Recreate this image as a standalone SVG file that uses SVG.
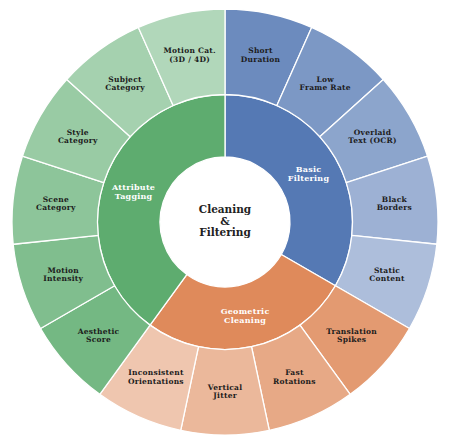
<svg xmlns="http://www.w3.org/2000/svg" width="456" height="441" viewBox="0 0 456 441">
<style>
.w{stroke:#ffffff;stroke-width:1.3;stroke-linejoin:round}
.o{font-family:"DejaVu Serif","Liberation Serif",serif;font-weight:bold;font-size:7.5px;letter-spacing:0.25px;fill:#1c1c1c;text-anchor:middle}
.m{font-family:"DejaVu Serif","Liberation Serif",serif;font-weight:bold;font-size:8px;letter-spacing:0.25px;fill:#ffffff;text-anchor:middle}
.c{font-family:"DejaVu Serif","Liberation Serif",serif;font-weight:bold;font-size:10.5px;fill:#222222;text-anchor:middle}
</style>
<rect width="456" height="441" fill="#ffffff"/>
<g id="basic-filtering">
<path class="w" fill="#5579b4" d="M225,94.5 A127.5,127.5 0 0 1 335.42,285.75 L281.29,254.5 A65,65 0 0 0 225,157 Z"/>
<text class="m" x="308.5" y="171.5">Basic</text>
<text class="m" x="308.5" y="180.5">Filtering</text>
</g>
<g id="geometric-cleaning">
<path class="w" fill="#df8a5b" d="M335.42,285.75 A127.5,127.5 0 0 1 150.06,325.15 L186.79,274.59 A65,65 0 0 0 281.29,254.5 Z"/>
<text class="m" x="245.1" y="313.8">Geometric</text>
<text class="m" x="245.1" y="322.8">Cleaning</text>
</g>
<g id="attribute-tagging">
<path class="w" fill="#5eac6f" d="M150.06,325.15 A127.5,127.5 0 0 1 225,94.5 L225,157 A65,65 0 0 0 186.79,274.59 Z"/>
<text class="m" x="133.6" y="189.9">Attribute</text>
<text class="m" x="133.6" y="198.9">Tagging</text>
</g>
<g id="short-duration">
<path class="w" fill="#6c8bbe" d="M225,9 A213,213 0 0 1 311.64,27.42 L276.86,105.52 A127.5,127.5 0 0 0 225,94.5 Z"/>
<text class="o" x="260.5" y="53.4">Short</text>
<text class="o" x="260.5" y="61.6">Duration</text>
</g>
<g id="low-frame-rate">
<path class="w" fill="#7c98c5" d="M311.64,27.42 A213,213 0 0 1 383.29,79.48 L319.75,136.69 A127.5,127.5 0 0 0 276.86,105.52 Z"/>
<text class="o" x="325.2" y="82.2">Low</text>
<text class="o" x="325.2" y="90.4">Frame Rate</text>
</g>
<g id="overlaid-text">
<path class="w" fill="#8ca5cc" d="M383.29,79.48 A213,213 0 0 1 427.57,156.18 L346.26,182.6 A127.5,127.5 0 0 0 319.75,136.69 Z"/>
<text class="o" x="372.5" y="134.8">Overlaid</text>
<text class="o" x="372.5" y="143">Text (OCR)</text>
</g>
<g id="black-borders">
<path class="w" fill="#9db1d4" d="M427.57,156.18 A213,213 0 0 1 436.83,244.26 L351.8,235.33 A127.5,127.5 0 0 0 346.26,182.6 Z"/>
<text class="o" x="394.4" y="202.1">Black</text>
<text class="o" x="394.4" y="210.3">Borders</text>
</g>
<g id="static-content">
<path class="w" fill="#adbedb" d="M436.83,244.26 A213,213 0 0 1 409.46,328.5 L335.42,285.75 A127.5,127.5 0 0 0 351.8,235.33 Z"/>
<text class="o" x="387" y="272.5">Static</text>
<text class="o" x="387" y="280.7">Content</text>
</g>
<g id="translation-spikes">
<path class="w" fill="#e39a71" d="M409.46,328.5 A213,213 0 0 1 350.2,394.32 L299.94,325.15 A127.5,127.5 0 0 0 335.42,285.75 Z"/>
<text class="o" x="351.6" y="333.8">Translation</text>
<text class="o" x="351.6" y="342">Spikes</text>
</g>
<g id="fast-rotations">
<path class="w" fill="#e7a986" d="M350.2,394.32 A213,213 0 0 1 269.29,430.35 L251.51,346.71 A127.5,127.5 0 0 0 299.94,325.15 Z"/>
<text class="o" x="294.4" y="375.4">Fast</text>
<text class="o" x="294.4" y="383.6">Rotations</text>
</g>
<g id="vertical-jitter">
<path class="w" fill="#ebb89b" d="M269.29,430.35 A213,213 0 0 1 180.71,430.35 L198.49,346.71 A127.5,127.5 0 0 0 251.51,346.71 Z"/>
<text class="o" x="225.1" y="390.2">Vertical</text>
<text class="o" x="225.1" y="398.4">Jitter</text>
</g>
<g id="inconsistent-orientations">
<path class="w" fill="#efc6af" d="M180.71,430.35 A213,213 0 0 1 99.8,394.32 L150.06,325.15 A127.5,127.5 0 0 0 198.49,346.71 Z"/>
<text class="o" x="155.9" y="375.4">Inconsistent</text>
<text class="o" x="155.9" y="383.6">Orientations</text>
</g>
<g id="aesthetic-score">
<path class="w" fill="#74b883" d="M99.8,394.32 A213,213 0 0 1 40.54,328.5 L114.58,285.75 A127.5,127.5 0 0 0 150.06,325.15 Z"/>
<text class="o" x="98.6" y="333.8">Aesthetic</text>
<text class="o" x="98.6" y="342">Score</text>
</g>
<g id="motion-intensity">
<path class="w" fill="#80be8e" d="M40.54,328.5 A213,213 0 0 1 13.17,244.26 L98.2,235.33 A127.5,127.5 0 0 0 114.58,285.75 Z"/>
<text class="o" x="63.2" y="272.5">Motion</text>
<text class="o" x="63.2" y="280.7">Intensity</text>
</g>
<g id="scene-category">
<path class="w" fill="#8dc59a" d="M13.17,244.26 A213,213 0 0 1 22.43,156.18 L103.74,182.6 A127.5,127.5 0 0 0 98.2,235.33 Z"/>
<text class="o" x="55.8" y="202.1">Scene</text>
<text class="o" x="55.8" y="210.3">Category</text>
</g>
<g id="style-category">
<path class="w" fill="#99cba4" d="M22.43,156.18 A213,213 0 0 1 66.71,79.48 L130.25,136.69 A127.5,127.5 0 0 0 103.74,182.6 Z"/>
<text class="o" x="77.7" y="134.8">Style</text>
<text class="o" x="77.7" y="143">Category</text>
</g>
<g id="subject-category">
<path class="w" fill="#a5d1af" d="M66.71,79.48 A213,213 0 0 1 138.36,27.42 L173.14,105.52 A127.5,127.5 0 0 0 130.25,136.69 Z"/>
<text class="o" x="125" y="82.2">Subject</text>
<text class="o" x="125" y="90.4">Category</text>
</g>
<g id="motion-category">
<path class="w" fill="#b1d7ba" d="M138.36,27.42 A213,213 0 0 1 225,9 L225,94.5 A127.5,127.5 0 0 0 173.14,105.52 Z"/>
<text class="o" x="189.7" y="53.4">Motion Cat.</text>
<text class="o" x="189.7" y="61.6">(3D / 4D)</text>
</g>
<g id="center">
<text class="c" x="225" y="213.3">Cleaning</text>
<text class="c" x="225" y="224.6">&amp;</text>
<text class="c" x="225" y="236">Filtering</text>
</g>
<g id="connectors"/>
</svg>
